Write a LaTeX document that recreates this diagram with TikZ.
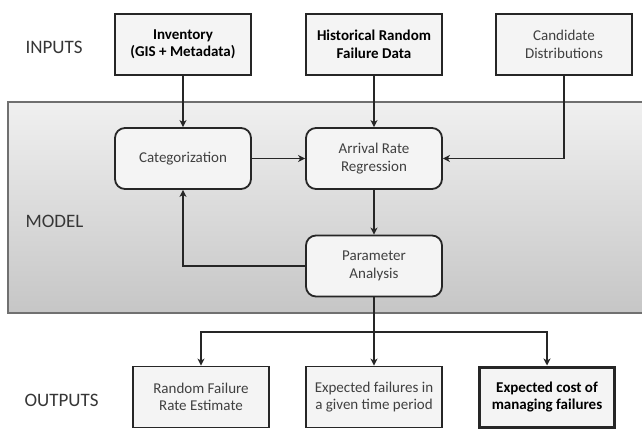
\documentclass[tikz,border=0pt]{standalone}
\usepackage{fontspec}
\setmainfont{Carlito}
\usetikzlibrary{arrows.meta,calc}
\definecolor{boxfill}{HTML}{F4F4F4}
\definecolor{boxline}{HTML}{262626}
\definecolor{txt}{HTML}{404040}
\definecolor{panelline}{HTML}{707070}
\definecolor{paneltop}{HTML}{F0F0F0}
\definecolor{panelbot}{HTML}{C6C6C6}
\tikzset{
  box/.style={draw=boxline, line width=1.8pt, fill=boxfill,
    minimum width=136pt, minimum height=61pt, inner sep=2pt,
    align=center, text=txt, font=\fontsize{15}{17.5}\selectfont},
  roundbox/.style={box, rounded corners=10pt},
  boldbox/.style={box, text=black, font=\fontsize{15}{17.5}\selectfont\bfseries},
  stage/.style={text=txt!85!black, font=\fontsize{19}{22}\selectfont, anchor=west},
  flow/.style={draw=boxline, line width=1.8pt,
    -{Stealth[length=7pt,width=7pt,inset=2pt]}},
  link/.style={draw=boxline, line width=1.8pt}
}
\begin{document}
\begin{tikzpicture}[x=1pt,y=-1pt]
  \useasboundingbox (0,0) rectangle (642,431);

  % model panel with vertical gradient, running off the right edge
  \shade[top color=paneltop, bottom color=panelbot, draw=panelline, line width=1.2pt]
    (8,102) rectangle (650,313);

  % stage labels
  \node[stage] (lin) at (22,47) {INPUTS};
  \node[stage] (lmod) at (22,221) {MODEL};
  \node[stage] (lout) at (21,400) {OUTPUTS};

  % inputs
  \node[boldbox] (inv) at (183,44.5) {Inventory\\(GIS + Metadata)};
  \node[boldbox] (hist) at (374,44.5) {Historical Random\\Failure Data};
  \node[box] (cand) at (564,44.5) {Candidate\\Distributions};

  % model steps
  \node[roundbox] (cat) at (183,158.5) {Categorization};
  \node[roundbox] (arr) at (374,158.5) {Arrival Rate\\Regression};
  \node[roundbox] (par) at (374,266) {Parameter\\Analysis};

  % outputs
  \node[box] (o1) at (201,397) {Random Failure\\Rate Estimate};
  \node[box] (o2) at (374,397) {Expected failures in\\a given time period};
  \node[boldbox, line width=3pt, minimum width=135pt, minimum height=60pt] (o3) at (547,397) {Expected cost of\\managing failures};

  % connectors
  \draw[flow] (inv.south) -- (cat.north);
  \draw[flow] (hist.south) -- (arr.north);
  \draw[flow] (cand.south) |- (arr.east);
  \draw[flow] (cat.east) -- (arr.west);
  \draw[flow] (arr.south) -- (par.north);
  \draw[flow] (par.west) -| (cat.south);

  \coordinate (br) at (374,332);
  \draw[flow] (par.south) -- (o2.north);
  \draw[flow] (br) -| (o1.north);
  \draw[flow] (br) -| (o3.north);
\end{tikzpicture}
\end{document}
